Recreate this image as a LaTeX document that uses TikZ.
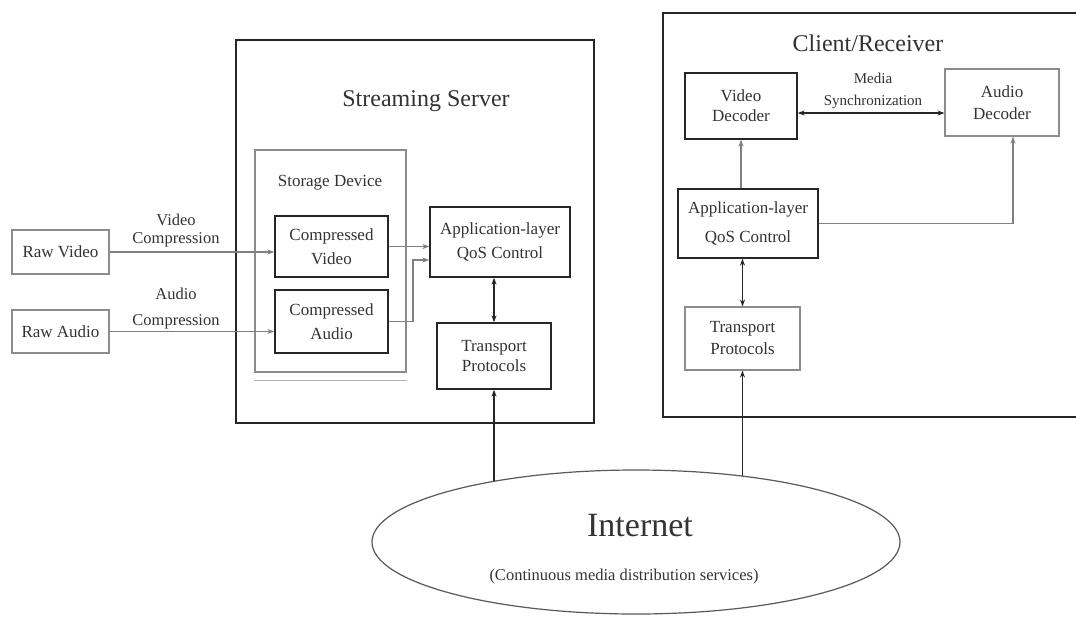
\documentclass[tikz,border=0pt]{standalone}
\usepackage{fontspec}
\setmainfont{Liberation Serif}
\usetikzlibrary{arrows.meta,shapes.geometric}
\newcommand\boxfont{\fontsize{17}{24}\selectfont}
\newcommand\smallfont{\fontsize{15.5}{21}\selectfont}
\begin{document}
\begin{tikzpicture}[x=1pt,y=-1pt,
  frame/.style={draw=black!85, line width=1.3pt},
  darkbox/.style={draw=black!85, line width=1.3pt, align=center, inner sep=0pt,
    font=\boxfont, text=black!80},
  lightbox/.style={darkbox, draw=black!45, line width=1.1pt},
  title/.style={font=\fontsize{24}{28}\selectfont, text=black!80, inner sep=0pt},
  txt/.style={font=\boxfont, text=black!80, inner sep=0pt, align=center},
  note/.style={font=\smallfont, text=black!80, inner sep=0pt, align=center},
  tip/.style={-{Stealth[length=7pt,width=5pt]}},
  bitip/.style={{Stealth[length=7pt,width=5pt]}-{Stealth[length=7pt,width=5pt]}},
  backtip/.style={{Stealth[length=7pt,width=5pt]}-},
  strong/.style={draw=black!85, line width=1.4pt},
  weak/.style={draw=black!50, line width=1.1pt}]

\useasboundingbox (0,0) rectangle (1076,625);
\fill[white] (0,0) rectangle (1076,625);

% ---------- streaming server ----------
\node[frame, minimum width=358pt, minimum height=383pt] (server) at (415,231.5) {};
\node[title] (servertitle) at (426,101) {Streaming Server};

\node[draw=black!45, line width=1.1pt, minimum width=151pt, minimum height=222pt] (storage) at (330.5,261) {};
\draw[draw=black!30, line width=0.9pt] ([yshift=-8pt]storage.south west) -- ([yshift=-8pt]storage.south east);
\node[txt] (storagetitle) at (330,183) {Storage Device};

\node[darkbox, minimum width=113pt, minimum height=61pt] (cvid) at (331.5,246.5) {Compressed\\Video};
\node[darkbox, minimum width=113pt, minimum height=63pt] (caud) at (331.5,321.5) {Compressed\\Audio};
\node[darkbox, minimum width=140pt, minimum height=70pt] (sqos) at (500,242) {Application-layer\\QoS Control};
\node[darkbox, minimum width=114pt, minimum height=66pt, font=\fontsize{17}{20}\selectfont] (stp) at (494,356) {Transport\\Protocols};

% ---------- sources ----------
\node[lightbox, minimum width=97pt, minimum height=44pt] (rvid) at (60.5,252) {Raw Video};
\node[lightbox, minimum width=97pt, minimum height=43pt] (raud) at (60.5,331.5) {Raw Audio};
\node[note, font=\fontsize{16.5}{18}\selectfont] (vcomp) at (176,231) {Video\\Compression};
\node[note, font=\fontsize{16.5}{26}\selectfont] (acomp) at (176,309) {Audio\\Compression};

\draw[weak, tip] (rvid.east) -- (cvid.west |- rvid.east);
\draw[weak, tip] (raud.east) -- (caud.west |- raud.east);
\draw[weak, tip] (cvid.east) -- (sqos.west |- cvid.east);
\coordinate (join) at (413,260);
\draw[weak, tip] (caud.east) -| (join) -- (sqos.west |- join);
\draw[strong, bitip] (sqos.south -| stp.north) -- (stp.north);

% ---------- client / receiver ----------
\draw[frame] (1080,13) -- (663,13) -- (663,417) -- (1080,417);
\node[title] (clienttitle) at (868,43) {Client/Receiver};

\node[darkbox, minimum width=112pt, minimum height=66pt, font=\fontsize{17}{20}\selectfont] (vdec) at (741,106) {Video\\Decoder};
\node[lightbox, minimum width=114pt, minimum height=67pt, font=\fontsize{17}{22}\selectfont] (adec) at (1002,102.5) {Audio\\Decoder};
\node[darkbox, minimum width=140pt, minimum height=69pt, font=\fontsize{17}{29}\selectfont] (cqos) at (748,223.5) {Application-layer\\QoS Control};
\node[lightbox, minimum width=115pt, minimum height=63pt, font=\fontsize{17}{22}\selectfont] (ctp) at (742.5,338.5) {Transport\\Protocols};

\coordinate (sync) at (870,113);
\draw[strong, bitip] (vdec.east |- sync) -- (adec.west |- sync);
\node[note, font=\fontsize{15}{22}\selectfont] (synclabel) at (873,91) {Media\\Synchronization};

\draw[weak, tip] (cqos.north -| vdec.south) -- (vdec.south);
\draw[weak, tip] (cqos.east) -| ([xshift=11pt]adec.south);
\draw[strong, bitip] (cqos.south -| ctp.north) -- (ctp.north);

% ---------- network ----------
\node[draw=black!65, line width=1.2pt, ellipse, minimum width=528pt, minimum height=144pt, inner sep=0pt] (internet) at (636,542) {};
\node[title, font=\fontsize{34}{38}\selectfont] (nettitle) at (640,526) {Internet};
\node[note, font=\fontsize{16.5}{20}\selectfont] (netsub) at (624,577) {(Continuous media distribution services)};

\draw[strong, backtip] (stp.south) -- (stp.south |- internet.157);
\draw[strong, backtip] (ctp.south) -- (ctp.south |- internet.30);
\end{tikzpicture}
\end{document}
